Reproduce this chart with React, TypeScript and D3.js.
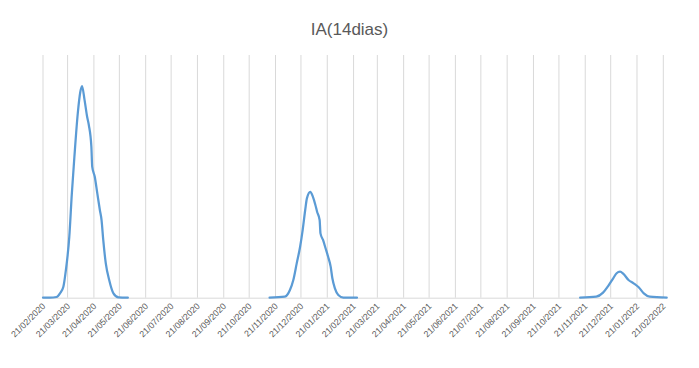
import React from "react";
import * as d3 from "d3";

const title = "IA(14dias)";

const tickLabels = [
  "21/02/2020", "21/03/2020", "21/04/2020", "21/05/2020", "21/06/2020", "21/07/2020",
  "21/08/2020", "21/09/2020", "21/10/2020", "21/11/2020", "21/12/2020", "21/01/2021",
  "21/02/2021", "21/03/2021", "21/04/2021", "21/05/2021", "21/06/2021", "21/07/2021",
  "21/08/2021", "21/09/2021", "21/10/2021", "21/11/2021", "21/12/2021", "21/01/2022",
  "21/02/2022",
];

const wave1Dates = [
  "2020-02-21", "2020-02-29", "2020-03-08", "2020-03-12", "2020-03-16", "2020-03-19",
  "2020-03-23", "2020-03-26", "2020-03-29", "2020-04-02", "2020-04-05", "2020-04-07",
  "2020-04-10", "2020-04-13", "2020-04-15", "2020-04-18", "2020-04-19", "2020-04-22",
  "2020-04-25", "2020-04-28", "2020-04-30", "2020-05-02", "2020-05-05", "2020-05-09",
  "2020-05-14", "2020-05-20", "2020-05-31",
];
const wave1Values = [
  0, 0, 4, 25, 63, 160, 352, 602, 813, 1064, 1188, 1221, 1140, 1044, 996, 871, 756, 698,
  602, 506, 448, 333, 198, 102, 25, 2, 0,
];

const wave2Dates = [
  "2020-11-14", "2020-12-02", "2020-12-08", "2020-12-12", "2020-12-16", "2020-12-20",
  "2020-12-23", "2020-12-26", "2020-12-28", "2021-01-01", "2021-01-04", "2021-01-07",
  "2021-01-09", "2021-01-12", "2021-01-13", "2021-01-16", "2021-01-19", "2021-01-22",
  "2021-01-25", "2021-01-27", "2021-01-30", "2021-02-03", "2021-02-09", "2021-02-25",
];
const wave2Values = [
  0, 6, 44, 102, 198, 294, 390, 506, 573, 611, 583, 535, 496, 448, 371, 333, 285, 236,
  179, 112, 54, 16, 1, 0,
];

const wave3Dates = [
  "2021-11-15", "2021-12-04", "2021-12-12", "2021-12-18", "2021-12-24", "2021-12-28",
  "2022-01-01", "2022-01-05", "2022-01-11", "2022-01-17", "2022-01-23", "2022-01-29",
  "2022-02-05", "2022-02-25",
];
const wave3Values = [0, 6, 29, 67, 112, 141, 150, 137, 102, 83, 60, 25, 6, 0];

const parseTick = d3.timeParse("%d/%m/%Y");
const parseDay = d3.timeParse("%Y-%m-%d");

export default function App() {
  const W = 699;
  const H = 368;
  const left = 43;
  const right = 663.3;
  const top = 55;
  const bottom = 297.7;

  const ticks = tickLabels.map((t) => parseTick(t) as Date);
  const x = d3
    .scaleTime()
    .domain([ticks[0], ticks[ticks.length - 1]])
    .range([left, right]);
  const y = d3.scaleLinear().domain([0, 1400]).range([bottom, top]);

  const line = d3
    .line<{ d: Date; v: number }>()
    .x((p) => x(p.d))
    .y((p) => y(p.v))
    .curve(d3.curveMonotoneX);

  const waves = [
    [wave1Dates, wave1Values],
    [wave2Dates, wave2Values],
    [wave3Dates, wave3Values],
  ].map(([ds, vs]) =>
    (ds as string[]).map((s, i) => ({ d: parseDay(s) as Date, v: (vs as number[])[i] }))
  );

  return (
    <svg
      width={W}
      height={H}
      style={{ position: "absolute", left: 0, top: 0, background: "#fff" }}
      fontFamily="'Liberation Sans', Arial, sans-serif"
    >
      <text x={W / 2} y={35} textAnchor="middle" fontSize={17} fill="#595959">
        {title}
      </text>
      {ticks.map((t, i) => (
        <line
          key={"g" + i}
          x1={x(t)}
          x2={x(t)}
          y1={top}
          y2={bottom}
          stroke="#d9d9d9"
          strokeWidth={1}
        />
      ))}
      <line x1={left} x2={right} y1={bottom + 0.5} y2={bottom + 0.5} stroke="#d9d9d9" strokeWidth={1} />
      {waves.map((w, i) => (
        <path
          key={"w" + i}
          d={line(w) || ""}
          fill="none"
          stroke="#5b9bd5"
          strokeWidth={2.25}
          strokeLinejoin="round"
          strokeLinecap="round"
        />
      ))}
      {ticks.map((t, i) => (
        <text
          key={"l" + i}
          transform={`translate(${x(t) + 3},${bottom + 9}) rotate(-45)`}
          textAnchor="end"
          fontSize={8.8}
          fill="#595959"
        >
          {tickLabels[i]}
        </text>
      ))}
    </svg>
  );
}
